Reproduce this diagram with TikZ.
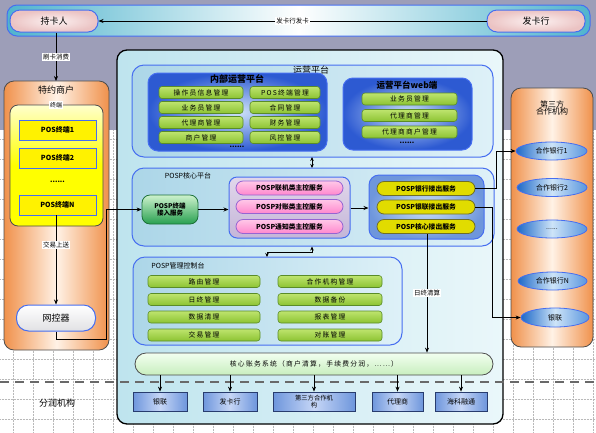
\documentclass[tikz,border=0pt]{standalone}
\usepackage{fontspec}
\setmainfont{Noto Sans CJK SC}
\newfontfamily\cjksp[LetterSpace=18]{Noto Sans CJK SC}
\usetikzlibrary{arrows.meta,shapes.geometric,shadings}
\newcommand\fsz[1]{\fontsize{#1}{#1}\selectfont}
\definecolor{bgp}{RGB}{157,158,184}
\definecolor{gridc}{RGB}{185,185,185}
\definecolor{bandc}{RGB}{80,180,205}
\definecolor{bordb}{RGB}{70,110,240}
\definecolor{pinkc}{RGB}{235,195,195}
\definecolor{pinkw}{RGB}{252,242,242}
\definecolor{orng}{RGB}{240,145,75}
\definecolor{orngl}{RGB}{255,242,230}
\definecolor{cyanl}{RGB}{190,228,238}
\definecolor{cyanw}{RGB}{234,247,250}
\definecolor{contl}{RGB}{172,214,232}
\definecolor{contr}{RGB}{222,241,248}
\definecolor{bluedk}{RGB}{45,90,210}
\definecolor{bluelt}{RGB}{205,225,248}
\definecolor{grnf}{RGB}{140,195,50}
\definecolor{grnt}{RGB}{190,228,110}
\definecolor{grnb}{RGB}{90,140,40}
\definecolor{pinkf}{RGB}{255,135,205}
\definecolor{pinkl}{RGB}{255,200,232}
\definecolor{pinkbd}{RGB}{150,100,210}
\definecolor{lav}{RGB}{196,182,216}
\definecolor{lavl}{RGB}{225,215,235}
\definecolor{yelf}{RGB}{225,220,0}
\definecolor{yelb}{RGB}{110,110,40}
\definecolor{blbox}{RGB}{110,150,220}
\definecolor{blboxl}{RGB}{198,214,246}
\definecolor{blboxb}{RGB}{40,60,110}
\definecolor{hzdk}{RGB}{30,105,200}
\definecolor{hzlt}{RGB}{205,228,248}
\definecolor{hzmd}{RGB}{90,150,222}
\definecolor{hxg}{RGB}{200,238,190}
\definecolor{hxgl}{RGB}{242,255,240}
\definecolor{dashc}{RGB}{105,105,105}
\definecolor{grayl}{RGB}{225,225,228}
\definecolor{dgreen}{RGB}{40,160,80}
\definecolor{lgreen}{RGB}{205,242,205}
\tikzset{
  lbl/.style={fill=white, inner sep=1pt, font=\fsz{6.5}},
  arr/.style={draw, -{Stealth[length=5pt,width=4pt]}, line width=0.7pt},
  arrboth/.style={draw, {Stealth[length=4pt,width=3.5pt]}-{Stealth[length=4pt,width=3.5pt]}, line width=0.7pt},
  grn/.style={draw=grnb, line width=0.6pt, rounded corners=3pt, top color=grnt, bottom color=grnf, inner sep=0pt, minimum height=12pt, font=\cjksp\fsz{6.8}},
  container/.style={draw=bordb, line width=1pt, rounded corners=12pt, left color=contl, right color=contr},
  bluegroup/.style={draw=bordb, line width=1pt, rounded corners=10pt, inner color=bluelt, outer color=bluedk},
  pinkpill/.style={draw=pinkbd, line width=0.8pt, rounded corners=7pt, top color=pinkl, bottom color=pinkf, inner sep=0pt, minimum width=107pt, minimum height=14pt, font=\bfseries\fsz{6.8}},
  yelpill/.style={draw=yelb, line width=0.8pt, rounded corners=7pt, fill=yelf, inner sep=0pt, minimum width=98pt, minimum height=14pt, font=\bfseries\fsz{6.8}},
  posbox/.style={draw=bordb, line width=0.8pt, fill=yellow, inner sep=0pt, minimum width=77pt, minimum height=20pt, font=\bfseries\fsz{7}},
  hzell/.style={ellipse, draw=bordb, line width=0.8pt, left color=hzdk, right color=hzmd, middle color=hzlt, inner sep=0pt, minimum width=70pt, minimum height=18pt, font=\fsz{7}},
  botbox/.style={draw=blboxb, line width=0.8pt, left color=blbox, right color=blbox, middle color=blboxl, inner sep=0pt, minimum height=19pt, font=\fsz{7}, align=center},
  orngbox/.style={draw=black!70, line width=0.8pt, rounded corners=10pt, left color=orng, right color=orng, middle color=orngl},
  pillend/.style={draw=bordb, line width=1pt, rounded corners=10pt, inner color=pinkw, outer color=pinkc, inner sep=0pt, minimum height=22pt, font=\fsz{9}},
}
\begin{document}
\begin{tikzpicture}[x=1pt,y=-1pt,font=\fsz{7}]
\useasboundingbox (0,0) rectangle (596,432);
\fill[white] (0,0) rectangle (596,432);
\fill[bgp] (0,0) rectangle (596,130);
\foreach \x in {13,33,...,593} \draw[gridc,densely dotted,line width=0.5pt] (\x,130) -- (\x,432);
\foreach \y in {139,159,...,431} \draw[gridc,densely dotted,line width=0.5pt] (0,\y) -- (596,\y);

% top band
\draw[bordb, line width=1pt, rounded corners=10pt, left color=bandc, right color=bandc, middle color=white] (7,5) rectangle (590,36);
\node[pillend, minimum width=88pt] (ckr) at (54,21) {持卡人};
\node[pillend, minimum width=98pt] (fkh) at (536,21) {发卡行};
\draw[arr] (fkh) -- node[lbl]{发卡行发卡} (ckr);

% merchant column
\draw[orngbox] (4,81) rectangle (109,350);
\node[font=\fsz{9}] (tysh) at (56,90) {特约商户};
\draw[draw=black!70, line width=0.8pt, rounded corners=8pt, top color=yellow!20, bottom color=yellow, middle color=yellow] (10,105) rectangle (103,226);
\node[lbl, font=\fsz{6}] (zd) at (56,105) {终端};
\node[posbox] (pos1) at (57.5,130) {POS终端1};
\node[posbox] (pos2) at (57.5,158) {POS终端2};
\node[font=\fsz{7}] (posdots) at (57.5,182) {\textbf{......}};
\node[posbox] (posn) at (57.5,205) {POS终端N};
\draw[arr] (ckr.south -| tysh) -- node[lbl]{刷卡消费} (tysh.north |- 0,81);
\node[draw=bordb, line width=1pt, rounded corners=12pt, top color=white, bottom color=grayl, inner sep=0pt, minimum width=79pt, minimum height=26pt, font=\fsz{9}] (wkq) at (56,318) {网控器};
\draw[arr] (posn.south -| wkq) -- node[lbl, pos=0.33]{交易上送} (wkq.north);

% main box
\draw[black, line width=1.3pt, rounded corners=10pt, left color=cyanl, right color=cyanw] (117,50) rectangle (503,424);

% operation platform
\draw[container] (132,65) rectangle (493,157);
\node[font=\fsz{9}] (yypt) at (311,70) {运营平台};
\draw[bluegroup] (148,73) rectangle (327,151);
\node[font=\bfseries\fsz{9}] (nbyy) at (237,79.5) {内部运营平台};
\node[grn, minimum width=84pt] (a1) at (201,92.5) {操作员信息管理};
\node[grn, minimum width=84pt] (a2) at (201,107.5) {业务员管理};
\node[grn, minimum width=84pt] (a3) at (201,122.5) {代理商管理};
\node[grn, minimum width=84pt] (a4) at (201,137.5) {商户管理};
\node[grn, minimum width=70pt] (b1) at (285,92.5) {POS终端管理};
\node[grn, minimum width=70pt] (b2) at (285,107.5) {合同管理};
\node[grn, minimum width=70pt] (b3) at (285,122.5) {财务管理};
\node[grn, minimum width=70pt] (b4) at (285,137.5) {风控管理};
\node (adots) at (237,147) {\textbf{......}};
\draw[bluegroup] (343,78) rectangle (472,150);
\node[font=\bfseries\fsz{8.5}] (web) at (407,85.5) {运营平台web端};
\node[grn, minimum width=95pt] (w1) at (409.5,99) {业务员管理};
\node[grn, minimum width=95pt] (w2) at (409.5,115.5) {代理商管理};
\node[grn, minimum width=95pt] (w3) at (409.5,132) {代理商商户管理};
\node (wdots) at (407,143) {\textbf{......}};

% POSP core
\draw[container] (132,168) rectangle (494,246);
\node[font=\fsz{7}] (hxpt) at (188,176) {POSP核心平台};
\coordinate (xm) at (312,0);
\draw[arrboth] (312,157) -- (312,168);
\node[draw=dgreen!70!black, line width=0.8pt, rounded corners=8pt, top color=lgreen, bottom color=dgreen, inner sep=0pt, minimum width=56pt, minimum height=29pt, align=center, font=\bfseries\fsz{6.5}] (posp) at (170,209.5) {POSP终端\\接入服务};
\node[draw=bordb, line width=1pt, rounded corners=8pt, top color=lavl, bottom color=lav, inner sep=0pt, minimum width=121pt, minimum height=61pt] (pinkg) at (289.5,207.5) {};
\node[pinkpill] (p1) at (289.5,188) {POSP联机类主控服务};
\node[pinkpill] (p2) at (289.5,206.5) {POSP对账类主控服务};
\node[pinkpill] (p3) at (289.5,226.5) {POSP通知类主控服务};
\node[draw=bordb, line width=1pt, rounded corners=10pt, inner color=bluelt, outer color=blbox, inner sep=0pt, minimum width=115pt, minimum height=64pt] (yelg) at (426.5,207) {};
\node[yelpill] (y1) at (426,188.5) {POSP银行接出服务};
\node[yelpill] (y2) at (426,207) {POSP银联接出服务};
\node[yelpill] (y3) at (426,226.5) {POSP核心接出服务};
\coordinate (c1) at (106,339);
\draw[arr] (wkq.south) |- (c1) |- (posp.west);
\draw[arr] (posp.east) -- (posp.east -| pinkg.west);
\draw[arr] (pinkg.east |- 0,208) -- (yelg.west |- 0,208);

% management console
\draw[container] (133,257) rectangle (402,345);
\node[font=\fsz{7}] (glkz) at (178,266) {POSP管理控制台};
\coordinate (c2) at (267,252);
\draw[arrboth] (312,246.5) |- (c2) -- (267,257);
\node[grn, minimum width=112pt] (m1) at (204,281.5) {路由管理};
\node[grn, minimum width=112pt] (m2) at (204,299.5) {日终管理};
\node[grn, minimum width=112pt] (m3) at (204,317) {数据清理};
\node[grn, minimum width=112pt] (m4) at (204,335) {交易管理};
\node[grn, minimum width=104pt] (n1) at (330,281.5) {合作机构管理};
\node[grn, minimum width=104pt] (n2) at (330,299.5) {数据备份};
\node[grn, minimum width=104pt] (n3) at (330,317) {报表管理};
\node[grn, minimum width=104pt] (n4) at (330,335) {对账管理};

% core accounting
\node[draw=black!70, line width=0.8pt, rounded corners=11pt, top color=hxgl, bottom color=hxg, inner sep=0pt, minimum width=358pt, minimum height=22pt, font=\cjksp\fsz{6.8}] (hxzw) at (314,364) {核心账务系统（商户清算，手续费分润，……）};
\draw[arr] (y3.south -| 427,0) -- node[lbl]{日终清算} (hxzw.north -| 427,0);

% third party column
\draw[orngbox] (511,88) rectangle (593,347);
\node[font=\fsz{8}, align=center] (dsf) at (552,108) {第三方\\[-1pt]合作机构};
\node[hzell, minimum width=71pt] (h1) at (551.5,151) {合作银行1};
\node[hzell] (h2) at (552,187.5) {合作银行2};
\node[hzell] (h3) at (552,229) {......};
\node[hzell, minimum width=69pt] (hn) at (552.5,281) {合作银行N};
\node[hzell, minimum width=68pt, minimum height=19pt] (yl) at (555,317.5) {银联};
\coordinate (r1) at (496,0);
\coordinate (r2) at (492,0);
\draw[arr] (y1.east) -- (y1.east -| r1) |- (h1.west);
\draw[arr] (y2.east) -- (y2.east -| r2) |- (yl.west);

% dashed divider
\draw[dashc, line width=1.6pt, dash pattern=on 9pt off 6pt] (0,382) -- (596,382);
\node[font=\fsz{9}] (frjg) at (57,403) {分润机构};

% bottom boxes
\node[botbox, minimum width=54pt] (d1) at (160,401.5) {银联};
\node[botbox, minimum width=54pt] (d2) at (230,401.5) {发卡行};
\node[botbox, minimum width=82pt, font=\fontsize{6.3}{7.6}\selectfont] (d3) at (314,401.5) {第三方合作机\\构};
\node[botbox, minimum width=51pt] (d4) at (397.5,401.5) {代理商};
\node[botbox, minimum width=52pt] (d5) at (461,401.5) {海科融通};
\foreach \d in {d1,d2,d3,d4,d5} \draw[arr] (hxzw.south -| \d) -- (\d.north);
\end{tikzpicture}
\end{document}
